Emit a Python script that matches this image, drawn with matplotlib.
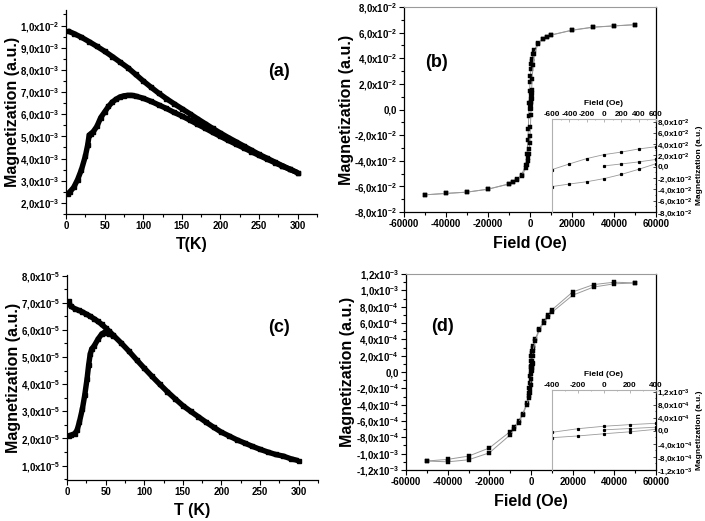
import numpy as np
import matplotlib
matplotlib.use('Agg')
import matplotlib.pyplot as plt
from matplotlib.ticker import MultipleLocator

plt.rcParams['font.family'] = ['Liberation Sans', 'DejaVu Sans']
plt.rcParams['font.weight'] = 'bold'
plt.rcParams['mathtext.fontset'] = 'custom'
plt.rcParams['mathtext.rm'] = 'Liberation Sans:bold'
plt.rcParams['mathtext.bf'] = 'Liberation Sans:bold'
plt.rcParams['mathtext.default'] = 'rm'

# ---------------- data ----------------
# (a) M(T), units of 1e-3
a_T_fc = [2, 10, 20, 30, 40, 50, 60, 70, 80, 90, 100, 110, 120, 130, 140, 150, 160, 170, 180,
          190, 200, 210, 220, 230, 240, 250, 260, 270, 280, 290, 300]
a_M_fc = [9.76, 9.64, 9.47, 9.27, 9.06, 8.84, 8.60, 8.35, 8.10, 7.80, 7.50, 7.22, 6.95, 6.70,
          6.47, 6.25, 6.03, 5.80, 5.58, 5.36, 5.15, 4.95, 4.76, 4.57, 4.38, 4.19, 4.02, 3.85,
          3.68, 3.52, 3.36]
a_T_zfc = [2, 5, 10, 15, 20, 25, 28, 30, 32, 35, 40, 45, 50, 55, 60, 65, 70, 75, 80, 85, 90,
           100, 110, 120, 130, 140, 150, 160, 170, 180, 190, 200, 210, 220, 230, 240, 250,
           260, 270, 280, 290, 300]
a_M_zfc = [2.40, 2.50, 2.70, 3.05, 3.50, 4.10, 4.60, 5.05, 5.12, 5.20, 5.45, 5.85, 6.10, 6.35,
           6.55, 6.68, 6.78, 6.83, 6.85, 6.85, 6.82, 6.72, 6.58, 6.42, 6.26, 6.08, 5.92, 5.74,
           5.55, 5.37, 5.18, 5.00, 4.82, 4.65, 4.48, 4.31, 4.14, 3.98, 3.82, 3.66, 3.51, 3.36]
a_scale = 1e-3

# (c) M(T), units of 1e-5
c_T_fc = [2, 3, 5, 10, 15, 20, 25, 30, 35, 40, 45, 50, 55, 60, 70, 80, 90, 100, 110, 120, 130,
          140, 150, 160, 170, 180, 190, 200, 210, 220, 230, 240, 250, 260, 270, 280, 290, 300]
c_M_fc = [7.05, 6.95, 6.87, 6.78, 6.72, 6.66, 6.58, 6.50, 6.41, 6.31, 6.20, 6.07, 5.94, 5.80,
          5.52, 5.22, 4.90, 4.59, 4.29, 4.00, 3.72, 3.46, 3.21, 3.00, 2.80, 2.60, 2.41, 2.23,
          2.09, 1.95, 1.83, 1.71, 1.60, 1.50, 1.41, 1.35, 1.25, 1.18]
c_T_zfc = [2, 5, 10, 13, 16, 20, 23, 26, 28, 30, 32, 35, 40, 45, 48, 52, 55, 60]
c_M_zfc = [2.10, 2.12, 2.18, 2.30, 2.60, 3.10, 3.60, 4.20, 4.70, 5.10, 5.30, 5.40, 5.65, 5.85,
           5.90, 5.88, 5.85, 5.78]
c_scale = 1e-5

# (b) M(H), units of 1e-2
b_H_down = [50000, 40000, 30000, 20000, 10000, 8000, 6000, 4000, 2000, 1500, 1000, 800, 600,
            400, 200, 0, -200, -400, -600, -800, -1000, -1500, -2000, -4000, -6000, -8000,
            -10000, -20000, -30000, -40000, -50000]
b_M_down = [6.62, 6.52, 6.42, 6.18, 5.82, 5.68, 5.50, 5.20, 4.65, 4.30, 3.95, 3.75, 3.55, 3.15,
            2.60, 2.15, 1.45, 0.50, -0.50, -1.50, -2.40, -3.50, -4.30, -5.10, -5.45, -5.65,
            -5.80, -6.22, -6.45, -6.55, -6.66]
b_H_up = [-50000, -40000, -30000, -20000, -10000, -8000, -6000, -4000, -2000, -1500, -1000,
          -800, -600, -400, -200, 0, 200, 400, 600, 800, 1000, 1500, 2000, 4000, 6000, 8000,
          10000, 20000, 30000, 40000, 50000]
b_M_up = [-6.66, -6.55, -6.45, -6.22, -5.82, -5.68, -5.50, -5.20, -4.60, -4.30, -4.00, -3.80,
          -3.50, -3.05, -2.65, -2.10, -1.35, -0.45, 0.55, 1.50, 2.40, 3.50, 4.35, 5.15, 5.48,
          5.66, 5.80, 6.20, 6.43, 6.53, 6.62]
b_H_virgin = [0, 200, 400, 600]
b_M_virgin = [0.15, 0.50, 0.86, 1.30]
b_scale = 1e-2

# (d) M(H), units of 1e-4
d_H_down = [50000, 40000, 30000, 20000, 10000, 8000, 6000, 4000, 2000, 1000, 800, 600, 400,
            200, 0, -200, -400, -600, -800, -1000, -2000, -4000, -6000, -8000, -10000, -20000,
            -30000, -40000, -50000]
d_M_down = [10.9, 11.0, 10.7, 9.8, 7.6, 7.0, 6.2, 5.3, 4.0, 3.2, 2.9, 2.6, 2.3, 1.9, 1.4, 0.65,
            -0.46, -1.3, -2.0, -2.6, -3.8, -5.1, -6.0, -6.7, -7.3, -9.3, -10.3, -10.7, -10.9]
d_H_up = [-50000, -40000, -30000, -20000, -10000, -8000, -6000, -4000, -2000, -1000, -800,
          -600, -400, -200, 0, 200, 400, 600, 800, 1000, 2000, 4000, 6000, 8000, 10000, 20000,
          30000, 40000, 50000]
d_M_up = [-10.9, -11.0, -10.75, -9.9, -7.7, -7.0, -6.2, -5.3, -4.0, -3.2, -2.9, -2.55, -2.1,
          -1.57, -0.9, -0.3, 0.46, 1.3, 2.0, 2.6, 3.8, 5.1, 6.0, 6.7, 7.3, 9.4, 10.4, 10.8, 10.9]
d_H_virgin = [0, 200, 400]
d_M_virgin = [0.3, 0.7, 1.1]
d_scale = 1e-4

# tick labels
a_yticks = [2e-3, 3e-3, 4e-3, 5e-3, 6e-3, 7e-3, 8e-3, 9e-3, 1e-2]
a_ylabels = ["2,0x10$^{-3}$", "3,0x10$^{-3}$", "4,0x10$^{-3}$", "5,0x10$^{-3}$", "6,0x10$^{-3}$",
             "7,0x10$^{-3}$", "8,0x10$^{-3}$", "9,0x10$^{-3}$", "1,0x10$^{-2}$"]
c_yticks = [1e-5, 2e-5, 3e-5, 4e-5, 5e-5, 6e-5, 7e-5, 8e-5]
c_ylabels = ["1,0x10$^{-5}$", "2,0x10$^{-5}$", "3,0x10$^{-5}$", "4,0x10$^{-5}$", "5,0x10$^{-5}$",
             "6,0x10$^{-5}$", "7,0x10$^{-5}$", "8,0x10$^{-5}$"]
T_ticks = [0, 50, 100, 150, 200, 250, 300]
b_yticks = [-0.08, -0.06, -0.04, -0.02, 0.0, 0.02, 0.04, 0.06, 0.08]
b_ylabels = ["-8,0x10$^{-2}$", "-6,0x10$^{-2}$", "-4,0x10$^{-2}$", "-2,0x10$^{-2}$", "0,0",
             "2,0x10$^{-2}$", "4,0x10$^{-2}$", "6,0x10$^{-2}$", "8,0x10$^{-2}$"]
H_ticks = [-60000, -40000, -20000, 0, 20000, 40000, 60000]
d_yticks = [-1.2e-3, -1.0e-3, -8e-4, -6e-4, -4e-4, -2e-4, 0.0, 2e-4, 4e-4, 6e-4, 8e-4, 1.0e-3, 1.2e-3]
d_ylabels = ["-1,2x10$^{-3}$", "-1,0x10$^{-3}$", "-8,0x10$^{-4}$", "-6,0x10$^{-4}$",
             "-4,0x10$^{-4}$", "-2,0x10$^{-4}$", "0,0", "2,0x10$^{-4}$", "4,0x10$^{-4}$",
             "6,0x10$^{-4}$", "8,0x10$^{-4}$", "1,0x10$^{-3}$", "1,2x10$^{-3}$"]
bi_xticks = [-600, -400, -200, 0, 200, 400, 600]
di_xticks = [-400, -200, 0, 200, 400]
di_yticks = [-1.2e-3, -8e-4, -4e-4, 0.0, 4e-4, 8e-4, 1.2e-3]
di_ylabels = ["-1,2x10$^{-3}$", "-8,0x10$^{-4}$", "-4,0x10$^{-4}$", "0,0", "4,0x10$^{-4}$",
              "8,0x10$^{-4}$", "1,2x10$^{-3}$"]

# ---------------- figure ----------------
W, H = 705, 521
fig = plt.figure(figsize=(W / 100, H / 100), dpi=100)


def box(l, t, r, b):
    return fig.add_axes([l / W, 1 - b / H, (r - l) / W, (b - t) / H])


TICK_FS = 7
LAB_FS = 11.5
GRAY = '#9a9a9a'


def style_main(ax, open_box=True):
    ax.tick_params(which='both', direction='out', labelsize=TICK_FS, width=0.8, pad=1.5)
    ax.tick_params(which='major', length=3.5)
    ax.tick_params(which='minor', length=2)
    if open_box:
        ax.spines['top'].set_visible(False)
        ax.spines['right'].set_visible(False)
    for s in ['left', 'bottom']:
        ax.spines[s].set_linewidth(0.9)


def mt_panel(ax, Tf, Mf, Tz, Mz, scale, yt, yl, ylim, xlabel, tag, tagpos):
    Mf = np.asarray(Mf) * scale
    Mz = np.asarray(Mz) * scale
    for T, M in [(Tf, Mf), (Tz, Mz)]:
        ax.plot(T, M, color='k', lw=3.9, marker='s', ms=3.0, solid_joinstyle='miter',
                solid_capstyle='butt')
    ax.set_xlim(0, 325)
    ax.set_ylim(*ylim)
    ax.set_xticks(T_ticks)
    ax.xaxis.set_minor_locator(MultipleLocator(25))
    ax.set_yticks(yt)
    ax.set_yticklabels(yl)
    ax.yaxis.set_minor_locator(MultipleLocator((yt[1] - yt[0]) / 2))
    style_main(ax)
    ax.set_xlabel(xlabel, fontsize=LAB_FS, fontweight='bold', labelpad=4)
    ax.set_ylabel('Magnetization (a.u.)', fontsize=LAB_FS, fontweight='bold', labelpad=0)
    ax.text(tagpos[0], tagpos[1], tag, transform=ax.transAxes, fontsize=13,
            fontweight='bold', ha='center', va='center')


def mh_panel(ax, branches, virgin, scale, yt, yl, ylim, tag, tagpos, ms):
    for Hs, Ms in branches:
        ax.plot(Hs, np.asarray(Ms) * scale, color=GRAY, lw=0.7, marker='s', ms=ms,
                mfc='k', mec='k', markeredgewidth=0.3)
    ax.plot(virgin[0], np.asarray(virgin[1]) * scale, color=GRAY, lw=0.7, marker='s', ms=ms,
            mfc='k', mec='k')
    ax.set_xlim(-60000, 60000)
    ax.set_ylim(*ylim)
    ax.set_xticks(H_ticks)
    ax.set_xticklabels([str(v) for v in H_ticks])
    ax.xaxis.set_minor_locator(MultipleLocator(10000))
    ax.set_yticks(yt)
    ax.set_yticklabels(yl)
    ax.yaxis.set_minor_locator(MultipleLocator((yt[1] - yt[0]) / 2))
    style_main(ax, open_box=False)
    ax.tick_params(which='both', right=False, top=False)
    ax.spines['top'].set_color(GRAY)
    ax.spines['top'].set_linewidth(0.8)
    ax.spines['right'].set_linewidth(0.9)
    ax.set_xlabel('Field (Oe)', fontsize=LAB_FS, fontweight='bold', labelpad=5)
    ax.set_ylabel('Magnetization (a.u.)', fontsize=LAB_FS, fontweight='bold', labelpad=0.5)
    ax.text(tagpos[0], tagpos[1], tag, transform=ax.transAxes, fontsize=13,
            fontweight='bold', ha='center', va='center')


def inset(ax, branches, virgin, scale, xt, xlim, yt, yl, ylim):
    for Hs, Ms in branches:
        ax.plot(Hs, np.asarray(Ms) * scale, color=GRAY, lw=0.6, marker='s', ms=1.3,
                mfc='k', mec='k')
    ax.plot(virgin[0], np.asarray(virgin[1]) * scale, color=GRAY, lw=0.6, marker='s', ms=1.3,
            mfc='k', mec='k')
    ax.set_xlim(*xlim)
    ax.set_ylim(*ylim)
    ax.patch.set_alpha(0)
    ax.xaxis.tick_top()
    ax.xaxis.set_label_position('top')
    ax.yaxis.tick_right()
    ax.yaxis.set_label_position('right')
    ax.set_xticks(xt)
    ax.set_xticklabels([str(v) for v in xt])
    ax.xaxis.set_minor_locator(MultipleLocator((xt[1] - xt[0]) / 2))
    ax.set_yticks(yt)
    ax.set_yticklabels(yl)
    ax.yaxis.set_minor_locator(MultipleLocator((yt[1] - yt[0]) / 2))
    ax.tick_params(which='both', direction='in', labelsize=5.8, width=0.5, pad=1,
                   colors='k')
    ax.tick_params(which='major', length=2)
    ax.tick_params(which='minor', length=1)
    ax.tick_params(axis='x', which='both', color=GRAY)
    for s in ['left', 'top']:
        ax.spines[s].set_color('#b0b0b0')
        ax.spines[s].set_linewidth(0.8)
    ax.spines['bottom'].set_visible(False)
    ax.spines['right'].set_visible(False)
    ax.set_xlabel('Field (Oe)', fontsize=6, fontweight='bold', labelpad=4)
    ax.set_ylabel('Magnetization (a.u.)', fontsize=6, fontweight='bold', labelpad=2)


axA = box(66, 10, 317, 214)
mt_panel(axA, a_T_fc, a_M_fc, a_T_zfc, a_M_zfc, a_scale, a_yticks, a_ylabels,
         (1.5e-3, 1.07e-2), 'T(K)', '(a)', (0.85, 0.70))

axC = box(67, 275, 318, 480)
mt_panel(axC, c_T_fc, c_M_fc, c_T_zfc, c_M_zfc, c_scale, c_yticks, c_ylabels,
         (0.47e-5, 8.02e-5), 'T (K)', '(c)', (0.845, 0.745))

axB = box(404, 7, 656, 212)
mh_panel(axB, [(b_H_down, b_M_down), (b_H_up, b_M_up)], (b_H_virgin, b_M_virgin), b_scale,
         b_yticks, b_ylabels, (-0.08, 0.08), '(b)', (0.13, 0.727), 3.0)

axD = box(406, 274, 656, 470)
mh_panel(axD, [(d_H_down, d_M_down), (d_H_up, d_M_up)], (d_H_virgin, d_M_virgin), d_scale,
         d_yticks, d_ylabels, (-1.2e-3, 1.2e-3), '(d)', (0.145, 0.73), 3.2)

axBi = box(552, 119, 656, 212)
inset(axBi, [(b_H_down, b_M_down), (b_H_up, b_M_up)], (b_H_virgin, b_M_virgin), b_scale,
      bi_xticks, (-600, 600), b_yticks, b_ylabels, (-0.08, 0.0845))

axDi = box(552, 390, 656, 470)
inset(axDi, [(d_H_down, d_M_down), (d_H_up, d_M_up)], (d_H_virgin, d_M_virgin), d_scale,
      di_xticks, (-400, 400), di_yticks, di_ylabels, (-1.2e-3, 1.25e-3))

fig.savefig('out.png', dpi=100)
